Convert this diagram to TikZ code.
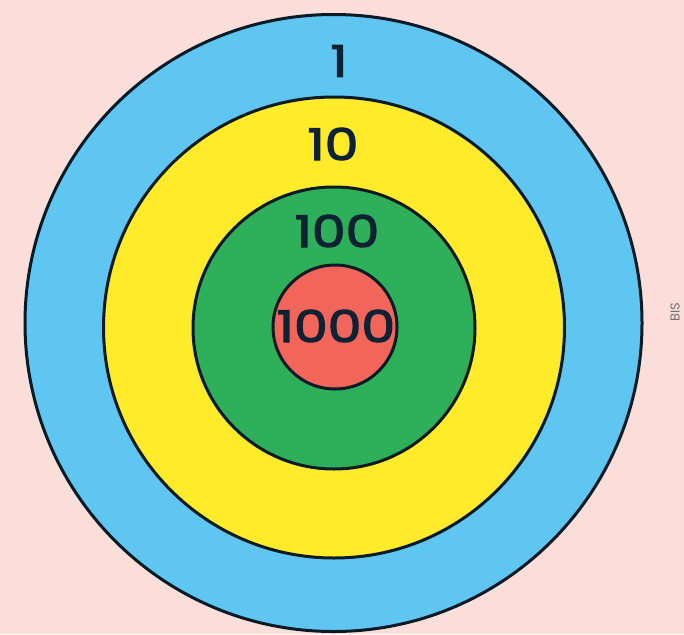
\documentclass[tikz,border=0pt]{standalone}
\usepackage{fontspec}
\setmainfont{Poppins}
\newfontfamily\numfont[FakeBold=2.5]{Poppins}
\definecolor{bgpink}{HTML}{FBDDD9}
\definecolor{ringblue}{HTML}{5EC6F1}
\definecolor{ringyellow}{HTML}{FFEB2A}
\definecolor{ringgreen}{HTML}{2EB05B}
\definecolor{ringred}{HTML}{F1655A}
\definecolor{outline}{HTML}{0B1B26}
\definecolor{numcol}{HTML}{0F2233}
\begin{document}
\begin{tikzpicture}[x=1pt,y=-1pt,
  ring/.style={draw=outline,line width=3pt},
  num/.style={text=numcol,font=\numfont\fontsize{44}{46}\selectfont,inner sep=0pt,xscale=1.22}]
\useasboundingbox (0,0) rectangle (684,634);
\fill[bgpink] (0,0) rectangle (684,634);
\begin{scope}
\clip (0,0) rectangle (684,634);
\draw[ring,fill=ringblue] (333.5,323) circle[radius=308.5];
\end{scope}
\draw[ring,fill=ringyellow] (334,327.5) circle[radius=230.5];
\draw[ring,fill=ringgreen] (334,328) circle[radius=141];
\draw[ring,fill=ringred] (335,327) circle[radius=62];
\node[num] (one) at (339,61) {1};
\node[num] (ten) at (333,144) {10};
\node[num] (hundred) at (337,231) {100};
\node[num] (thousand) at (336,326) {1000};
\node[rotate=90,text=black!55,font=\fontsize{13}{15}\selectfont,inner sep=0pt] (bis) at (675,312) {BIS};
\end{tikzpicture}
\end{document}
